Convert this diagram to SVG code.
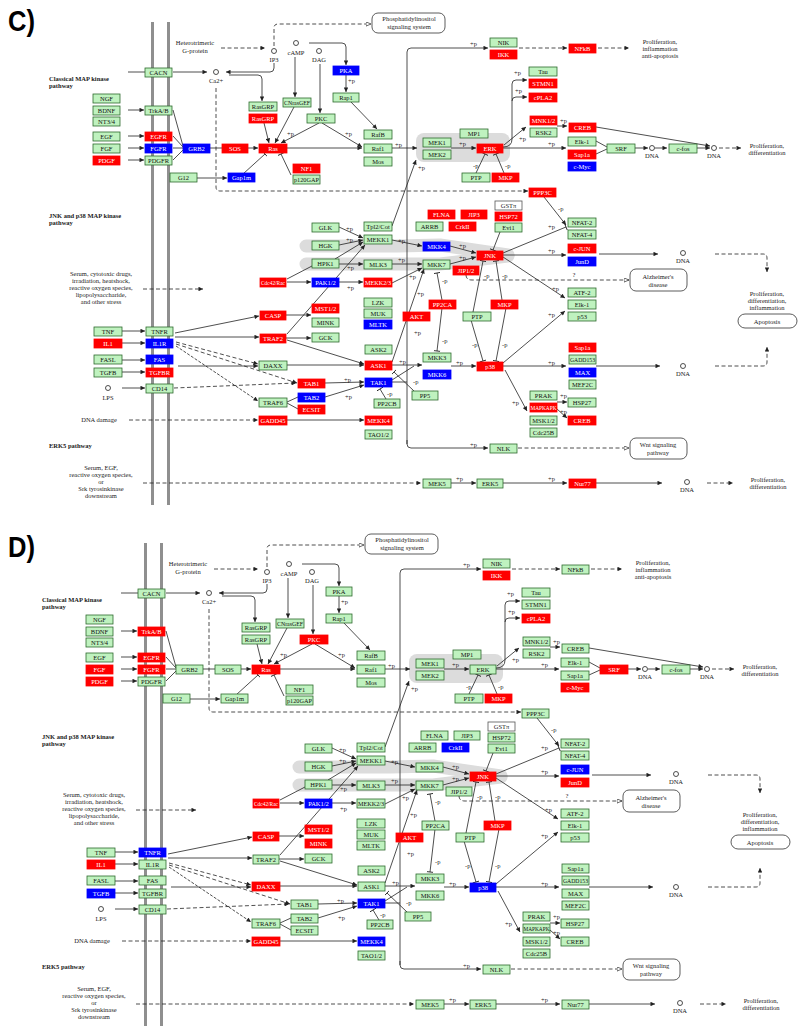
<svg xmlns="http://www.w3.org/2000/svg" xmlns:xlink="http://www.w3.org/1999/xlink" width="800" height="1032" viewBox="0 0 800 1032">
<style>
text{font-family:"Liberation Serif","DejaVu Serif",serif;font-size:6.5px;fill:#222}
.n rect{stroke-width:0.8}
.n text{text-anchor:middle}
.g rect{fill:#bff2bf;stroke:#2d6a2d}
.g text{fill:#111}
.r rect{fill:#ff0000;stroke:#ff0000}
.r text{fill:#fff}
.b rect{fill:#0000ff;stroke:#0000ff}
.b text{fill:#fff}
.w rect{fill:#fff;stroke:#555}
.c{fill:none;stroke:#222;stroke-width:0.8}
.d{stroke-dasharray:4 2.5}
.ma{marker-end:url(#a)}
.mh{marker-end:url(#h)}
.mt{marker-end:url(#t)}
.p{font-size:6px}
.m{text-anchor:middle}
.sec{font-weight:bold}
.pw rect{fill:#fff;stroke:#333;stroke-width:0.8}
.pw text{text-anchor:middle}
.mem{fill:#8f8f8f}
.band{fill:none;stroke:#dcdcdc;stroke-width:13;stroke-linecap:round;stroke-linejoin:round}
.cir{fill:#fff;stroke:#222;stroke-width:0.8}
.big{font-family:"Liberation Sans",Arial,sans-serif;font-weight:bold;font-size:29px;fill:#000}
</style>
<defs>
<marker id="a" viewBox="0 0 6 6" refX="6" refY="3" markerWidth="6" markerHeight="4.5" orient="auto" markerUnits="userSpaceOnUse"><path d="M0,0L6,3L0,6z" fill="#222"/></marker>
<marker id="h" viewBox="0 0 7 6" refX="6.5" refY="3" markerWidth="6" markerHeight="5" orient="auto" markerUnits="userSpaceOnUse"><path d="M0.5,0.5L6.5,3L0.5,5.5z" fill="#fff" stroke="#222" stroke-width="0.8"/></marker>
<marker id="t" viewBox="0 0 2 8" refX="1" refY="4" markerWidth="2" markerHeight="7" orient="auto" markerUnits="userSpaceOnUse"><path d="M1,0V8" stroke="#222" stroke-width="1"/></marker>

<g id="bgp">
<rect class="mem" x="151" y="22" width="3" height="483"/>
<rect class="mem" x="167" y="22" width="3" height="483"/>
<rect x="416" y="133" width="94" height="29" rx="8" fill="#dcdcdc"/>
<path class="band" d="M306,246 L398,246 L440,245 L508,255"/>
<path class="band" d="M306,264 L440,264 L508,256"/>
</g>

<g id="conn">
<path class="c d ma" d="M221,48H265"/>
<path class="c d mh" d="M274,46V28Q274,24 278,24H371"/>
<path class="c ma" d="M274,63V68Q274,72 270,72H226"/>
<path class="c" d="M128,72H145"/>
<path class="c ma" d="M173,72H207"/>
<path class="c ma" d="M229,75H258Q262,75 262,79V101"/>
<path class="c d ma" d="M216,88V187Q216,191 220,191H528"/>
<path class="c ma" d="M295,57V97"/>
<path class="c ma" d="M309,43H342Q346,43 346,47V65"/>
<path class="c ma" d="M320,64V113"/>
<path class="c ma" d="M346,74V92"/>
<path class="c ma" d="M350,101L377,129"/>
<path class="c ma" d="M264,123L269,143"/>
<path class="c ma" d="M294,107L275,143"/>
<path class="c ma" d="M319,123L281,143"/>
<path class="c ma" d="M322,123L362,147"/>
<path class="c ma" d="M287,148H362"/>
<path class="c" d="M210,148H222"/>
<path class="c ma" d="M248,148H258"/>
<path class="c ma" d="M128,110H144"/>
<path class="c ma" d="M128,136H144"/>
<path class="c ma" d="M128,148H144"/>
<path class="c ma" d="M128,160H144"/>
<path class="c" d="M173,110L183,146M173,136L183,147M173,148H183M173,160L183,150"/>
<path class="c ma" d="M197,178H227"/>
<path class="c mt" d="M243,174L265,154"/>
<path class="c mt" d="M291,175L281,154"/>
<path class="c ma" d="M392,148H417"/>
<path class="c ma" d="M392,226L416,160"/>
<path class="c ma" d="M451,148H476"/>
<path class="c mt" d="M476,173L485,154"/>
<path class="c mt" d="M504,173L496,154"/>
<path class="c ma" d="M503,147Q512,147 512,139V84Q512,80 516,80H527"/>
<path class="c ma" d="M512,101Q512,97 516,97H527"/>
<path class="c ma" d="M504,145L526,127"/>
<path class="c ma" d="M557,126H567"/>
<path class="c ma" d="M596,127L710,146"/>
<path class="c ma" d="M503,148H566"/>
<path class="c" d="M596,141L607,147M596,154L607,149"/>
<path class="c ma" d="M635,148H648"/>
<path class="c ma" d="M655,148H667"/>
<path class="c ma" d="M697,148H710"/>
<path class="c d ma" d="M719,148H741"/>
<path class="c ma" d="M407,444V52Q407,48 411,48H488"/>
<path class="c ma" d="M407,440V444Q407,448 411,448H488"/>
<path class="c" d="M392,382H407"/>
<path class="c d ma" d="M519,48H567"/>
<path class="c d ma" d="M598,48H629"/>
<path class="c ma" d="M339,227L363,238"/>
<path class="c ma" d="M339,245L363,240"/>
<path class="c ma" d="M335,259L363,242"/>
<path class="c ma" d="M287,334L365,245"/>
<path class="c ma" d="M339,264H363"/>
<path class="c" d="M287,279L312,266"/>
<path class="c ma" d="M287,282H311"/>
<path class="c ma" d="M339,282H363"/>
<path class="c ma" d="M286,315H311"/>
<path class="c ma" d="M286,338H311"/>
<path class="c ma" d="M175,333L259,316"/>
<path class="c ma" d="M175,337H259"/>
<path class="c ma" d="M122,331H145"/>
<path class="c ma" d="M122,343H145"/>
<path class="c ma" d="M122,360H145"/>
<path class="c ma" d="M122,372H145"/>
<path class="c ma" d="M122,388H145"/>
<path class="c ma" d="M178,366H258"/>
<path class="c d ma" d="M176,342L258,364"/>
<path class="c d ma" d="M176,344L297,383"/>
<path class="c ma" stroke-dasharray="3 1.5" d="M176,346L258,401"/>
<path class="c ma" d="M287,340L364,364"/>
<path class="c ma" d="M287,365H364"/>
<path class="c d ma" d="M174,388L296,383"/>
<path class="c ma" d="M325,383L364,382"/>
<path class="c ma" d="M325,397L364,385"/>
<path class="c" d="M287,402L298,397M287,403L298,409"/>
<path class="c mt" d="M386,399L380,389"/>
<path class="c ma" d="M287,420H364"/>
<path class="c d ma" d="M129,420H258"/>
<path class="c d ma" d="M143,289H203"/>
<path class="c d ma" d="M143,483H421"/>
<path class="c ma" d="M451,483H476"/>
<path class="c ma" d="M503,483H567"/>
<path class="c ma" d="M596,483H662"/>
<path class="c d ma" d="M707,483H733"/>
<path class="c ma" d="M392,240L422,246"/>
<path class="c ma" d="M392,264H422"/>
<path class="c ma" d="M392,283L422,268"/>
<path class="c ma" d="M392,362L424,269"/>
<path class="c ma" d="M392,365H422"/>
<path class="c" d="M392,380L414,366"/>
<path class="c mt" d="M442,300L437,273"/>
<path class="c mt" d="M442,308L437,351"/>
<path class="c mt" d="M414,391L394,372"/>
<path class="c ma" d="M450,246L476,253"/>
<path class="c ma" d="M450,264L476,257"/>
<path class="c ma" d="M451,366H476"/>
<path class="c mt" d="M473,312L483,261"/>
<path class="c mt" d="M502,300L496,261"/>
<path class="c mt" d="M471,320L483,361"/>
<path class="c mt" d="M506,308L496,361"/>
<path class="c mt" d="M500,232L493,250"/>
<path class="c mt" d="M503,253L566,227"/>
<path class="c ma" d="M544,197L566,225"/>
<path class="c ma" d="M503,255H566"/>
<path class="c ma" d="M599,254H658"/>
<path class="c d ma" d="M715,254H763Q767,254 767,258V272"/>
<path class="c ma" d="M503,257L565,298"/>
<path class="c ma" d="M503,363L565,311"/>
<path class="c ma" d="M503,366H566"/>
<path class="c ma" d="M596,366H660"/>
<path class="c d ma" d="M715,366H763Q767,366 767,362V347"/>
<path class="c ma" d="M505,370L527,411"/>
<path class="c ma" d="M557,402H567"/>
<path class="c ma" d="M557,409L567,418"/>
<path class="c d mh" d="M466,275Q466,280 472,280H629"/>
<path class="c d mh" d="M518,448H629"/>
<g class="p">
<text x="348" y="83">+p</text><text x="287" y="136">+p</text><text x="345" y="136">+p</text>
<text x="395" y="147">+p</text><text x="418" y="170">+p</text><text x="459" y="146">+p</text>
<text x="473" y="168">-p</text><text x="505" y="168">-p</text><text x="470" y="46">+p</text>
<text x="514" y="75">+p</text><text x="515" y="93">+p</text><text x="519" y="141">+p</text>
<text x="560" y="123">+p</text><text x="548" y="146">+p</text>
<text x="346" y="231">+p</text><text x="346" y="242">+p</text><text x="347" y="270">+p</text>
<text x="347" y="290">+p</text><text x="398" y="243">+p</text><text x="398" y="262">+p</text>
<text x="409" y="279">+p</text><text x="417" y="296">+p</text><text x="414" y="335">+p</text>
<text x="459" y="248">+p</text><text x="459" y="260">+p</text>
<text x="484" y="278">-p</text><text x="502" y="278">-p</text>
<text x="442" y="283">-p</text><text x="442" y="343">-p</text><text x="558" y="211">-p</text>
<text x="548" y="229">+p</text><text x="548" y="253">+p</text><text x="552" y="291">+p</text>
<text x="548" y="317">+p</text><text x="472" y="347">-p</text><text x="502" y="347">-p</text>
<text x="399" y="364">+p</text><text x="456" y="365">+p</text><text x="548" y="365">+p</text>
<text x="512" y="405">+p</text><text x="560" y="398">+p</text><text x="560" y="414">+p</text>
<text x="413" y="384">-p</text><text x="344" y="382">+p</text><text x="345" y="399">+p</text>
<text x="387" y="396">-p</text><text x="470" y="447">+p</text>
<text x="456" y="481">+p</text><text x="548" y="481">+p</text>
</g>
</g>

<g id="statp">
<circle class="cir" cx="274" cy="51" r="2.5"/>
<circle class="cir" cx="296" cy="43" r="2.5"/>
<circle class="cir" cx="319" cy="51" r="2.5"/>
<circle class="cir" cx="216" cy="72" r="2.5"/>
<circle class="cir" cx="108" cy="388" r="2.5"/>
<circle class="cir" cx="652" cy="148" r="2.5"/>
<circle class="cir" cx="714" cy="148" r="2.5"/>
<circle class="cir" cx="683" cy="253" r="2.5"/>
<circle class="cir" cx="683" cy="366" r="2.5"/>
<circle class="cir" cx="687" cy="482" r="2.5"/>
<g class="m">
<text x="195" y="45">Heterotrimeric</text><text x="195" y="53">G-protein</text>
<text x="274" y="62">IP3</text><text x="296" y="55">cAMP</text><text x="319" y="62">DAG</text>
<text x="216" y="83">Ca2+</text><text x="108" y="400">LPS</text>
<text x="652" y="158">DNA</text><text x="714" y="158">DNA</text><text x="683" y="263">DNA</text>
<text x="683" y="376">DNA</text><text x="687" y="492">DNA</text>
<text x="101" y="276">Serum, cytotoxic drugs,</text><text x="101" y="283">irradiation, heatshock,</text>
<text x="101" y="290">reactive oxygen species,</text><text x="101" y="297">lipopolysaccharide,</text>
<text x="101" y="304">and other stress</text>
<text x="99" y="422">DNA damage</text>
<text x="101" y="470">Serum, EGF,</text><text x="101" y="477">reactive oxygen species,</text>
<text x="101" y="484">or</text><text x="101" y="491">Srk tyrosinkinase</text><text x="101" y="498">downstream</text>
<text x="660" y="44">Proliferation,</text><text x="660" y="51">inflammation</text><text x="660" y="58">anti-apoptosis</text>
<text x="767" y="148">Proliferation,</text><text x="767" y="155">differentiation</text>
<text x="767" y="296">Proliferation,</text><text x="767" y="303">differentiation,</text><text x="767" y="310">inflammation</text>
<text x="768" y="482">Proliferation,</text><text x="768" y="489">differentiation</text>
<text x="574" y="277">?</text>
</g>
<text class="sec" x="49" y="81">Classical MAP kinase</text><text class="sec" x="49" y="88">pathway</text>
<text class="sec" x="49" y="218">JNK and p38 MAP kinase</text><text class="sec" x="49" y="225">pathway</text>
<text class="sec" x="49" y="448">ERK5 pathway</text>
<g class="pw" id="pw-pi"><rect x="372" y="13" width="73" height="20" rx="6"/><text x="409" y="21">Phosphatidylinositol</text><text x="409" y="28.5">signaling system</text></g>
<g class="pw" id="pw-alz"><rect x="630" y="269" width="57" height="22" rx="6"/><text x="658" y="279">Alzheimer's</text><text x="658" y="287">disease</text></g>
<g class="pw" id="pw-wnt"><rect x="630" y="438" width="57" height="21" rx="6"/><text x="658" y="447">Wnt signaling</text><text x="658" y="455">pathway</text></g>
<g class="pw" id="pw-apo"><rect x="738" y="314" width="59" height="14" rx="7"/><text x="767" y="323.5">Apoptosis</text></g>
</g>
</defs>

<rect width="800" height="1032" fill="#fff"/>
<text class="big" x="8" y="31" textLength="27" lengthAdjust="spacingAndGlyphs">C)</text>
<text class="big" x="8" y="557" textLength="27" lengthAdjust="spacingAndGlyphs">D)</text>

<g id="background">
<use href="#bgp"/>
<use href="#bgp" transform="translate(-7,521)"/>
</g>
<g id="connectors">
<use href="#conn"/>
<use href="#conn" transform="translate(-7,521)"/>
</g>
<g id="labels">
<use href="#statp"/>
<use href="#statp" transform="translate(-7,521)"/>
</g>

<g id="nodes-C">
<g id="c-ngf" class="n g"><rect x="93" y="94" width="27" height="9"/><text x="106.5" y="100.8">NGF</text></g>
<g id="c-bdnf" class="n g"><rect x="93" y="106" width="27" height="9"/><text x="106.5" y="112.8">BDNF</text></g>
<g id="c-nt34" class="n g"><rect x="93" y="117" width="27" height="9"/><text x="106.5" y="123.8">NT3/4</text></g>
<g id="c-egf" class="n g"><rect x="93" y="132" width="27" height="9"/><text x="106.5" y="138.8">EGF</text></g>
<g id="c-fgf" class="n g"><rect x="93" y="144" width="27" height="9"/><text x="106.5" y="150.8">FGF</text></g>
<g id="c-pdgf" class="n r"><rect x="93" y="156" width="27" height="9"/><text x="106.5" y="162.8">PDGF</text></g>
<g id="c-cacn" class="n g"><rect x="145" y="68" width="27" height="9"/><text x="158.5" y="74.8">CACN</text></g>
<g id="c-trkab" class="n g"><rect x="145" y="106" width="27" height="9"/><text x="158.5" y="112.8">TrkA/B</text></g>
<g id="c-egfr" class="n r"><rect x="145" y="132" width="27" height="9"/><text x="158.5" y="138.8">EGFR</text></g>
<g id="c-fgfr" class="n b"><rect x="145" y="144" width="27" height="9"/><text x="158.5" y="150.8">FGFR</text></g>
<g id="c-pdgfr" class="n g"><rect x="145" y="156" width="27" height="9"/><text x="158.5" y="162.8">PDGFR</text></g>
<g id="c-grb2" class="n b"><rect x="183" y="144" width="27" height="9"/><text x="196.5" y="150.8">GRB2</text></g>
<g id="c-sos" class="n r"><rect x="222" y="144" width="26" height="9"/><text x="235" y="150.8">SOS</text></g>
<g id="c-ras" class="n r"><rect x="259" y="144" width="28" height="9"/><text x="273" y="150.8">Ras</text></g>
<g id="c-g12" class="n g"><rect x="170" y="173" width="27" height="9"/><text x="183.5" y="179.8">G12</text></g>
<g id="c-gap1m" class="n b"><rect x="228" y="173" width="27" height="9"/><text x="241.5" y="179.8">Gap1m</text></g>
<g id="c-nf1" class="n r"><rect x="293" y="164" width="27" height="9"/><text x="306.5" y="170.8">NF1</text></g>
<g id="c-p120gap" class="n g"><rect x="293" y="175" width="27" height="9"/><text x="306.5" y="181.8" textLength="25" lengthAdjust="spacingAndGlyphs">p120GAP</text></g>
<g id="c-rasgrp1" class="n g"><rect x="249" y="102" width="28" height="9"/><text x="263" y="108.8">RasGRP</text></g>
<g id="c-rasgrp2" class="n r"><rect x="249" y="114" width="28" height="9"/><text x="263" y="120.8">RasGRP</text></g>
<g id="c-cnrasgef" class="n g"><rect x="283" y="98" width="28" height="9"/><text x="297" y="104.8" textLength="26" lengthAdjust="spacingAndGlyphs">CNrasGEF</text></g>
<g id="c-pkc" class="n g"><rect x="307" y="114" width="28" height="9"/><text x="321" y="120.8">PKC</text></g>
<g id="c-pka" class="n b"><rect x="333" y="66" width="26" height="9"/><text x="346" y="72.8">PKA</text></g>
<g id="c-rap1" class="n g"><rect x="333" y="93" width="26" height="9"/><text x="346" y="99.8">Rap1</text></g>
<g id="c-rafb" class="n g"><rect x="364" y="130" width="28" height="9"/><text x="378" y="136.8">RafB</text></g>
<g id="c-raf1" class="n g"><rect x="364" y="144" width="28" height="9"/><text x="378" y="150.8">Raf1</text></g>
<g id="c-mos" class="n g"><rect x="364" y="157" width="28" height="9"/><text x="378" y="163.8">Mos</text></g>
<g id="c-mek1" class="n g"><rect x="423" y="138" width="28" height="9"/><text x="437" y="144.8">MEK1</text></g>
<g id="c-mek2" class="n g"><rect x="423" y="150" width="28" height="9"/><text x="437" y="156.8">MEK2</text></g>
<g id="c-mp1" class="n g"><rect x="460" y="129" width="28" height="9"/><text x="474" y="135.8">MP1</text></g>
<g id="c-erk" class="n r"><rect x="477" y="144" width="26" height="9"/><text x="490" y="150.8">ERK</text></g>
<g id="c-ptp1" class="n g"><rect x="462" y="173" width="28" height="9"/><text x="476" y="179.8">PTP</text></g>
<g id="c-mkp1" class="n r"><rect x="492" y="173" width="27" height="9"/><text x="505.5" y="179.8">MKP</text></g>
<g id="c-nik" class="n g"><rect x="490" y="38" width="27" height="9"/><text x="503.5" y="44.8">NIK</text></g>
<g id="c-ikk" class="n r"><rect x="490" y="50" width="27" height="9"/><text x="503.5" y="56.8">IKK</text></g>
<g id="c-nfkb" class="n r"><rect x="569" y="44" width="27" height="9"/><text x="582.5" y="50.8">NFkB</text></g>
<g id="c-tau" class="n g"><rect x="529" y="67" width="28" height="9"/><text x="543" y="73.8">Tau</text></g>
<g id="c-stmn1" class="n r"><rect x="529" y="79" width="28" height="9"/><text x="543" y="85.8">STMN1</text></g>
<g id="c-cpla2" class="n r"><rect x="529" y="93" width="28" height="9"/><text x="543" y="99.8">cPLA2</text></g>
<g id="c-mnk12" class="n r"><rect x="530" y="116" width="27" height="9"/><text x="543.5" y="122.8">MNK1/2</text></g>
<g id="c-rsk2" class="n g"><rect x="530" y="128" width="27" height="9"/><text x="543.5" y="134.8">RSK2</text></g>
<g id="c-creb1" class="n r"><rect x="569" y="123" width="27" height="9"/><text x="582.5" y="129.8">CREB</text></g>
<g id="c-elk1a" class="n g"><rect x="568" y="137" width="28" height="9"/><text x="582" y="143.8">Elk-1</text></g>
<g id="c-sap1a1" class="n r"><rect x="568" y="150" width="28" height="9"/><text x="582" y="156.8">Sap1a</text></g>
<g id="c-cmyc" class="n b"><rect x="568" y="162" width="28" height="9"/><text x="582" y="168.8">c-Myc</text></g>
<g id="c-srf" class="n g"><rect x="607" y="144" width="28" height="9"/><text x="621" y="150.8">SRF</text></g>
<g id="c-cfos" class="n g"><rect x="669" y="144" width="28" height="9"/><text x="683" y="150.8">c-fos</text></g>
<g id="c-ppp3c" class="n r"><rect x="529" y="188" width="27" height="9"/><text x="542.5" y="194.8">PPP3C</text></g>
<g id="c-gstpi" class="n w"><rect x="495" y="201" width="27" height="9"/><text x="508.5" y="207.8">GSTπ</text></g>
<g id="c-hsp72" class="n r"><rect x="495" y="212" width="27" height="9"/><text x="508.5" y="218.8">HSP72</text></g>
<g id="c-evi1" class="n g"><rect x="495" y="223" width="27" height="9"/><text x="508.5" y="229.8">Evi1</text></g>
<g id="c-flna" class="n r"><rect x="428" y="210" width="27" height="9"/><text x="441.5" y="216.8">FLNA</text></g>
<g id="c-jip3" class="n r"><rect x="461" y="210" width="26" height="9"/><text x="474" y="216.8">JIP3</text></g>
<g id="c-arrb" class="n g"><rect x="416" y="222" width="27" height="9"/><text x="429.5" y="228.8">ARRB</text></g>
<g id="c-crkii" class="n r"><rect x="449" y="222" width="27" height="9"/><text x="462.5" y="228.8">CrkII</text></g>
<g id="c-mkk4" class="n b"><rect x="423" y="242" width="27" height="9"/><text x="436.5" y="248.8">MKK4</text></g>
<g id="c-mkk7" class="n g"><rect x="423" y="260" width="27" height="9"/><text x="436.5" y="266.8">MKK7</text></g>
<g id="c-jnk" class="n r"><rect x="477" y="251" width="26" height="9"/><text x="490" y="257.8">JNK</text></g>
<g id="c-jip12" class="n r"><rect x="453" y="266" width="26" height="9"/><text x="466" y="272.8">JIP1/2</text></g>
<g id="c-nfat2" class="n g"><rect x="568" y="218" width="28" height="9"/><text x="582" y="224.8">NFAT-2</text></g>
<g id="c-nfat4" class="n g"><rect x="568" y="230" width="28" height="9"/><text x="582" y="236.8">NFAT-4</text></g>
<g id="c-cjun" class="n r"><rect x="568" y="244" width="28" height="9"/><text x="582" y="250.8">c-JUN</text></g>
<g id="c-jund" class="n b"><rect x="568" y="257" width="28" height="9"/><text x="582" y="263.8">JunD</text></g>
<g id="c-atf2" class="n g"><rect x="568" y="288" width="28" height="9"/><text x="582" y="294.8">ATF-2</text></g>
<g id="c-elk1b" class="n g"><rect x="568" y="300" width="28" height="9"/><text x="582" y="306.8">Elk-1</text></g>
<g id="c-p53" class="n g"><rect x="568" y="312" width="28" height="9"/><text x="582" y="318.8">p53</text></g>
<g id="c-pp2ca" class="n r"><rect x="429" y="300" width="27" height="9"/><text x="442.5" y="306.8">PP2CA</text></g>
<g id="c-mkp2" class="n r"><rect x="491" y="300" width="27" height="9"/><text x="504.5" y="306.8">MKP</text></g>
<g id="c-ptp2" class="n g"><rect x="463" y="312" width="28" height="9"/><text x="477" y="318.8">PTP</text></g>
<g id="c-akt" class="n r"><rect x="403" y="312" width="27" height="9"/><text x="416.5" y="318.8">AKT</text></g>
<g id="c-glk" class="n g"><rect x="312" y="223" width="27" height="9"/><text x="325.5" y="229.8">GLK</text></g>
<g id="c-hgk" class="n g"><rect x="312" y="241" width="27" height="9"/><text x="325.5" y="247.8">HGK</text></g>
<g id="c-hpk1" class="n g"><rect x="312" y="259" width="27" height="9"/><text x="325.5" y="265.8">HPK1</text></g>
<g id="c-tpl2" class="n g"><rect x="364" y="222" width="28" height="9"/><text x="378" y="228.8">Tpl2/Cot</text></g>
<g id="c-mekk1" class="n g"><rect x="364" y="235" width="28" height="9"/><text x="378" y="241.8">MEKK1</text></g>
<g id="c-mlk3" class="n g"><rect x="364" y="260" width="28" height="9"/><text x="378" y="266.8">MLK3</text></g>
<g id="c-cdc42" class="n r"><rect x="260" y="278" width="26" height="9"/><text x="273" y="284.8" textLength="24" lengthAdjust="spacingAndGlyphs">Cdc42/Rac</text></g>
<g id="c-pak12" class="n b"><rect x="312" y="278" width="27" height="9"/><text x="325.5" y="284.8">PAK1/2</text></g>
<g id="c-mekk23" class="n r"><rect x="364" y="278" width="28" height="9"/><text x="378" y="284.8" textLength="26" lengthAdjust="spacingAndGlyphs">MEKK2/3</text></g>
<g id="c-lzk" class="n g"><rect x="364" y="298" width="28" height="9"/><text x="378" y="304.8">LZK</text></g>
<g id="c-muk" class="n g"><rect x="364" y="309" width="28" height="9"/><text x="378" y="315.8">MUK</text></g>
<g id="c-mltk" class="n b"><rect x="364" y="320" width="28" height="9"/><text x="378" y="326.8">MLTK</text></g>
<g id="c-mst12" class="n r"><rect x="312" y="304" width="27" height="9"/><text x="325.5" y="310.8">MST1/2</text></g>
<g id="c-mink" class="n g"><rect x="312" y="318" width="27" height="9"/><text x="325.5" y="324.8">MINK</text></g>
<g id="c-gck" class="n g"><rect x="312" y="333" width="27" height="9"/><text x="325.5" y="339.8">GCK</text></g>
<g id="c-casp" class="n r"><rect x="260" y="311" width="26" height="9"/><text x="273" y="317.8">CASP</text></g>
<g id="c-traf2" class="n r"><rect x="260" y="334" width="26" height="9"/><text x="273" y="340.8">TRAF2</text></g>
<g id="c-tnf" class="n g"><rect x="94" y="327" width="28" height="9"/><text x="108" y="333.8">TNF</text></g>
<g id="c-tnfr" class="n g"><rect x="146" y="327" width="27" height="9"/><text x="159.5" y="333.8">TNFR</text></g>
<g id="c-il1" class="n r"><rect x="94" y="339" width="28" height="9"/><text x="108" y="345.8">IL1</text></g>
<g id="c-il1r" class="n b"><rect x="146" y="339" width="27" height="9"/><text x="159.5" y="345.8">IL1R</text></g>
<g id="c-fasl" class="n g"><rect x="94" y="355" width="28" height="9"/><text x="108" y="361.8">FASL</text></g>
<g id="c-fas" class="n b"><rect x="146" y="355" width="27" height="9"/><text x="159.5" y="361.8">FAS</text></g>
<g id="c-tgfb" class="n g"><rect x="94" y="368" width="28" height="9"/><text x="108" y="374.8">TGFB</text></g>
<g id="c-tgfbr" class="n r"><rect x="146" y="368" width="27" height="9"/><text x="159.5" y="374.8">TGFBR</text></g>
<g id="c-cd14" class="n g"><rect x="146" y="384" width="27" height="9"/><text x="159.5" y="390.8">CD14</text></g>
<g id="c-ask2" class="n g"><rect x="365" y="345" width="27" height="9"/><text x="378.5" y="351.8">ASK2</text></g>
<g id="c-ask1" class="n r"><rect x="365" y="361" width="27" height="9"/><text x="378.5" y="367.8">ASK1</text></g>
<g id="c-daxx" class="n g"><rect x="259" y="361" width="28" height="9"/><text x="273" y="367.8">DAXX</text></g>
<g id="c-tab1" class="n r"><rect x="298" y="379" width="27" height="9"/><text x="311.5" y="385.8">TAB1</text></g>
<g id="c-tak1" class="n b"><rect x="365" y="378" width="27" height="9"/><text x="378.5" y="384.8">TAK1</text></g>
<g id="c-traf6" class="n g"><rect x="259" y="398" width="28" height="9"/><text x="273" y="404.8">TRAF6</text></g>
<g id="c-tab2" class="n b"><rect x="298" y="393" width="27" height="9"/><text x="311.5" y="399.8">TAB2</text></g>
<g id="c-ecsit" class="n r"><rect x="298" y="405" width="27" height="9"/><text x="311.5" y="411.8">ECSIT</text></g>
<g id="c-pp2cb" class="n g"><rect x="374" y="399" width="26" height="9"/><text x="387" y="405.8">PP2CB</text></g>
<g id="c-gadd45" class="n r"><rect x="259" y="416" width="28" height="9"/><text x="273" y="422.8" textLength="25" lengthAdjust="spacingAndGlyphs">GADD45</text></g>
<g id="c-mekk4" class="n r"><rect x="365" y="416" width="27" height="9"/><text x="378.5" y="422.8">MEKK4</text></g>
<g id="c-tao12" class="n g"><rect x="365" y="430" width="27" height="9"/><text x="378.5" y="436.8">TAO1/2</text></g>
<g id="c-mkk3" class="n g"><rect x="423" y="353" width="28" height="9"/><text x="437" y="359.8">MKK3</text></g>
<g id="c-mkk6" class="n b"><rect x="423" y="370" width="28" height="9"/><text x="437" y="376.8">MKK6</text></g>
<g id="c-p38" class="n r"><rect x="477" y="362" width="26" height="9"/><text x="490" y="368.8">p38</text></g>
<g id="c-pp5" class="n g"><rect x="412" y="391" width="26" height="9"/><text x="425" y="397.8">PP5</text></g>
<g id="c-sap1a2" class="n r"><rect x="569" y="343" width="27" height="9"/><text x="582.5" y="349.8">Sap1a</text></g>
<g id="c-gadd153" class="n g"><rect x="569" y="355" width="27" height="9"/><text x="582.5" y="361.8" textLength="25" lengthAdjust="spacingAndGlyphs">GADD153</text></g>
<g id="c-max" class="n b"><rect x="569" y="368" width="27" height="9"/><text x="582.5" y="374.8">MAX</text></g>
<g id="c-mef2c" class="n g"><rect x="569" y="380" width="27" height="9"/><text x="582.5" y="386.8">MEF2C</text></g>
<g id="c-prak" class="n g"><rect x="530" y="391" width="27" height="9"/><text x="543.5" y="397.8">PRAK</text></g>
<g id="c-mapkapk" class="n r"><rect x="530" y="403" width="27" height="9"/><text x="543.5" y="409.8" textLength="26" lengthAdjust="spacingAndGlyphs">MAPKAPK</text></g>
<g id="c-msk12" class="n g"><rect x="530" y="416" width="27" height="9"/><text x="543.5" y="422.8">MSK1/2</text></g>
<g id="c-cdc25b" class="n g"><rect x="530" y="428" width="27" height="9"/><text x="543.5" y="434.8">Cdc25B</text></g>
<g id="c-hsp27" class="n g"><rect x="568" y="398" width="28" height="9"/><text x="582" y="404.8">HSP27</text></g>
<g id="c-creb2" class="n r"><rect x="568" y="416" width="28" height="9"/><text x="582" y="422.8">CREB</text></g>
<g id="c-nlk" class="n g"><rect x="490" y="444" width="27" height="9"/><text x="503.5" y="450.8">NLK</text></g>
<g id="c-mek5" class="n g"><rect x="423" y="479" width="28" height="9"/><text x="437" y="485.8">MEK5</text></g>
<g id="c-erk5" class="n g"><rect x="477" y="479" width="26" height="9"/><text x="490" y="485.8">ERK5</text></g>
<g id="c-nur77" class="n r"><rect x="569" y="479" width="27" height="9"/><text x="582.5" y="485.8">Nur77</text></g>
</g>

<g id="nodes-D" transform="translate(-7,521)">
<g id="d-ngf" class="n g"><rect x="93" y="94" width="27" height="9"/><text x="106.5" y="100.8">NGF</text></g>
<g id="d-bdnf" class="n g"><rect x="93" y="106" width="27" height="9"/><text x="106.5" y="112.8">BDNF</text></g>
<g id="d-nt34" class="n g"><rect x="93" y="117" width="27" height="9"/><text x="106.5" y="123.8">NT3/4</text></g>
<g id="d-egf" class="n g"><rect x="93" y="132" width="27" height="9"/><text x="106.5" y="138.8">EGF</text></g>
<g id="d-fgf" class="n r"><rect x="93" y="144" width="27" height="9"/><text x="106.5" y="150.8">FGF</text></g>
<g id="d-pdgf" class="n r"><rect x="93" y="156" width="27" height="9"/><text x="106.5" y="162.8">PDGF</text></g>
<g id="d-cacn" class="n g"><rect x="145" y="68" width="27" height="9"/><text x="158.5" y="74.8">CACN</text></g>
<g id="d-trkab" class="n r"><rect x="145" y="106" width="27" height="9"/><text x="158.5" y="112.8">TrkA/B</text></g>
<g id="d-egfr" class="n r"><rect x="145" y="132" width="27" height="9"/><text x="158.5" y="138.8">EGFR</text></g>
<g id="d-fgfr" class="n r"><rect x="145" y="144" width="27" height="9"/><text x="158.5" y="150.8">FGFR</text></g>
<g id="d-pdgfr" class="n g"><rect x="145" y="156" width="27" height="9"/><text x="158.5" y="162.8">PDGFR</text></g>
<g id="d-grb2" class="n g"><rect x="183" y="144" width="27" height="9"/><text x="196.5" y="150.8">GRB2</text></g>
<g id="d-sos" class="n g"><rect x="222" y="144" width="26" height="9"/><text x="235" y="150.8">SOS</text></g>
<g id="d-ras" class="n r"><rect x="259" y="144" width="28" height="9"/><text x="273" y="150.8">Ras</text></g>
<g id="d-g12" class="n g"><rect x="170" y="173" width="27" height="9"/><text x="183.5" y="179.8">G12</text></g>
<g id="d-gap1m" class="n g"><rect x="228" y="173" width="27" height="9"/><text x="241.5" y="179.8">Gap1m</text></g>
<g id="d-nf1" class="n g"><rect x="293" y="164" width="27" height="9"/><text x="306.5" y="170.8">NF1</text></g>
<g id="d-p120gap" class="n g"><rect x="293" y="175" width="27" height="9"/><text x="306.5" y="181.8" textLength="25" lengthAdjust="spacingAndGlyphs">p120GAP</text></g>
<g id="d-rasgrp1" class="n g"><rect x="249" y="102" width="28" height="9"/><text x="263" y="108.8">RasGRP</text></g>
<g id="d-rasgrp2" class="n g"><rect x="249" y="114" width="28" height="9"/><text x="263" y="120.8">RasGRP</text></g>
<g id="d-cnrasgef" class="n g"><rect x="283" y="98" width="28" height="9"/><text x="297" y="104.8" textLength="26" lengthAdjust="spacingAndGlyphs">CNrasGEF</text></g>
<g id="d-pkc" class="n r"><rect x="307" y="114" width="28" height="9"/><text x="321" y="120.8">PKC</text></g>
<g id="d-pka" class="n g"><rect x="333" y="66" width="26" height="9"/><text x="346" y="72.8">PKA</text></g>
<g id="d-rap1" class="n g"><rect x="333" y="93" width="26" height="9"/><text x="346" y="99.8">Rap1</text></g>
<g id="d-rafb" class="n g"><rect x="364" y="130" width="28" height="9"/><text x="378" y="136.8">RafB</text></g>
<g id="d-raf1" class="n g"><rect x="364" y="144" width="28" height="9"/><text x="378" y="150.8">Raf1</text></g>
<g id="d-mos" class="n g"><rect x="364" y="157" width="28" height="9"/><text x="378" y="163.8">Mos</text></g>
<g id="d-mek1" class="n g"><rect x="423" y="138" width="28" height="9"/><text x="437" y="144.8">MEK1</text></g>
<g id="d-mek2" class="n g"><rect x="423" y="150" width="28" height="9"/><text x="437" y="156.8">MEK2</text></g>
<g id="d-mp1" class="n g"><rect x="460" y="129" width="28" height="9"/><text x="474" y="135.8">MP1</text></g>
<g id="d-erk" class="n g"><rect x="477" y="144" width="26" height="9"/><text x="490" y="150.8">ERK</text></g>
<g id="d-ptp1" class="n g"><rect x="462" y="173" width="28" height="9"/><text x="476" y="179.8">PTP</text></g>
<g id="d-mkp1" class="n r"><rect x="492" y="173" width="27" height="9"/><text x="505.5" y="179.8">MKP</text></g>
<g id="d-nik" class="n g"><rect x="490" y="38" width="27" height="9"/><text x="503.5" y="44.8">NIK</text></g>
<g id="d-ikk" class="n r"><rect x="490" y="50" width="27" height="9"/><text x="503.5" y="56.8">IKK</text></g>
<g id="d-nfkb" class="n g"><rect x="569" y="44" width="27" height="9"/><text x="582.5" y="50.8">NFkB</text></g>
<g id="d-tau" class="n g"><rect x="529" y="67" width="28" height="9"/><text x="543" y="73.8">Tau</text></g>
<g id="d-stmn1" class="n g"><rect x="529" y="79" width="28" height="9"/><text x="543" y="85.8">STMN1</text></g>
<g id="d-cpla2" class="n r"><rect x="529" y="93" width="28" height="9"/><text x="543" y="99.8">cPLA2</text></g>
<g id="d-mnk12" class="n g"><rect x="530" y="116" width="27" height="9"/><text x="543.5" y="122.8">MNK1/2</text></g>
<g id="d-rsk2" class="n g"><rect x="530" y="128" width="27" height="9"/><text x="543.5" y="134.8">RSK2</text></g>
<g id="d-creb1" class="n g"><rect x="569" y="123" width="27" height="9"/><text x="582.5" y="129.8">CREB</text></g>
<g id="d-elk1a" class="n g"><rect x="568" y="137" width="28" height="9"/><text x="582" y="143.8">Elk-1</text></g>
<g id="d-sap1a1" class="n g"><rect x="568" y="150" width="28" height="9"/><text x="582" y="156.8">Sap1a</text></g>
<g id="d-cmyc" class="n r"><rect x="568" y="162" width="28" height="9"/><text x="582" y="168.8">c-Myc</text></g>
<g id="d-srf" class="n r"><rect x="607" y="144" width="28" height="9"/><text x="621" y="150.8">SRF</text></g>
<g id="d-cfos" class="n g"><rect x="669" y="144" width="28" height="9"/><text x="683" y="150.8">c-fos</text></g>
<g id="d-ppp3c" class="n g"><rect x="529" y="188" width="27" height="9"/><text x="542.5" y="194.8">PPP3C</text></g>
<g id="d-gstpi" class="n w"><rect x="495" y="201" width="27" height="9"/><text x="508.5" y="207.8">GSTπ</text></g>
<g id="d-hsp72" class="n g"><rect x="495" y="212" width="27" height="9"/><text x="508.5" y="218.8">HSP72</text></g>
<g id="d-evi1" class="n g"><rect x="495" y="223" width="27" height="9"/><text x="508.5" y="229.8">Evi1</text></g>
<g id="d-flna" class="n g"><rect x="428" y="210" width="27" height="9"/><text x="441.5" y="216.8">FLNA</text></g>
<g id="d-jip3" class="n g"><rect x="461" y="210" width="26" height="9"/><text x="474" y="216.8">JIP3</text></g>
<g id="d-arrb" class="n g"><rect x="416" y="222" width="27" height="9"/><text x="429.5" y="228.8">ARRB</text></g>
<g id="d-crkii" class="n b"><rect x="449" y="222" width="27" height="9"/><text x="462.5" y="228.8">CrkII</text></g>
<g id="d-mkk4" class="n g"><rect x="423" y="242" width="27" height="9"/><text x="436.5" y="248.8">MKK4</text></g>
<g id="d-mkk7" class="n g"><rect x="423" y="260" width="27" height="9"/><text x="436.5" y="266.8">MKK7</text></g>
<g id="d-jnk" class="n r"><rect x="477" y="251" width="26" height="9"/><text x="490" y="257.8">JNK</text></g>
<g id="d-jip12" class="n g"><rect x="453" y="266" width="26" height="9"/><text x="466" y="272.8">JIP1/2</text></g>
<g id="d-nfat2" class="n g"><rect x="568" y="218" width="28" height="9"/><text x="582" y="224.8">NFAT-2</text></g>
<g id="d-nfat4" class="n g"><rect x="568" y="230" width="28" height="9"/><text x="582" y="236.8">NFAT-4</text></g>
<g id="d-cjun" class="n b"><rect x="568" y="244" width="28" height="9"/><text x="582" y="250.8">c-JUN</text></g>
<g id="d-jund" class="n r"><rect x="568" y="257" width="28" height="9"/><text x="582" y="263.8">JunD</text></g>
<g id="d-atf2" class="n g"><rect x="568" y="288" width="28" height="9"/><text x="582" y="294.8">ATF-2</text></g>
<g id="d-elk1b" class="n g"><rect x="568" y="300" width="28" height="9"/><text x="582" y="306.8">Elk-1</text></g>
<g id="d-p53" class="n g"><rect x="568" y="312" width="28" height="9"/><text x="582" y="318.8">p53</text></g>
<g id="d-pp2ca" class="n g"><rect x="429" y="300" width="27" height="9"/><text x="442.5" y="306.8">PP2CA</text></g>
<g id="d-mkp2" class="n r"><rect x="491" y="300" width="27" height="9"/><text x="504.5" y="306.8">MKP</text></g>
<g id="d-ptp2" class="n g"><rect x="463" y="312" width="28" height="9"/><text x="477" y="318.8">PTP</text></g>
<g id="d-akt" class="n r"><rect x="403" y="312" width="27" height="9"/><text x="416.5" y="318.8">AKT</text></g>
<g id="d-glk" class="n g"><rect x="312" y="223" width="27" height="9"/><text x="325.5" y="229.8">GLK</text></g>
<g id="d-hgk" class="n g"><rect x="312" y="241" width="27" height="9"/><text x="325.5" y="247.8">HGK</text></g>
<g id="d-hpk1" class="n g"><rect x="312" y="259" width="27" height="9"/><text x="325.5" y="265.8">HPK1</text></g>
<g id="d-tpl2" class="n g"><rect x="364" y="222" width="28" height="9"/><text x="378" y="228.8">Tpl2/Cot</text></g>
<g id="d-mekk1" class="n g"><rect x="364" y="235" width="28" height="9"/><text x="378" y="241.8">MEKK1</text></g>
<g id="d-mlk3" class="n g"><rect x="364" y="260" width="28" height="9"/><text x="378" y="266.8">MLK3</text></g>
<g id="d-cdc42" class="n r"><rect x="260" y="278" width="26" height="9"/><text x="273" y="284.8" textLength="24" lengthAdjust="spacingAndGlyphs">Cdc42/Rac</text></g>
<g id="d-pak12" class="n b"><rect x="312" y="278" width="27" height="9"/><text x="325.5" y="284.8">PAK1/2</text></g>
<g id="d-mekk23" class="n g"><rect x="364" y="278" width="28" height="9"/><text x="378" y="284.8" textLength="26" lengthAdjust="spacingAndGlyphs">MEKK2/3</text></g>
<g id="d-lzk" class="n g"><rect x="364" y="298" width="28" height="9"/><text x="378" y="304.8">LZK</text></g>
<g id="d-muk" class="n g"><rect x="364" y="309" width="28" height="9"/><text x="378" y="315.8">MUK</text></g>
<g id="d-mltk" class="n g"><rect x="364" y="320" width="28" height="9"/><text x="378" y="326.8">MLTK</text></g>
<g id="d-mst12" class="n r"><rect x="312" y="304" width="27" height="9"/><text x="325.5" y="310.8">MST1/2</text></g>
<g id="d-mink" class="n r"><rect x="312" y="318" width="27" height="9"/><text x="325.5" y="324.8">MINK</text></g>
<g id="d-gck" class="n g"><rect x="312" y="333" width="27" height="9"/><text x="325.5" y="339.8">GCK</text></g>
<g id="d-casp" class="n r"><rect x="260" y="311" width="26" height="9"/><text x="273" y="317.8">CASP</text></g>
<g id="d-traf2" class="n g"><rect x="260" y="334" width="26" height="9"/><text x="273" y="340.8">TRAF2</text></g>
<g id="d-tnf" class="n g"><rect x="94" y="327" width="28" height="9"/><text x="108" y="333.8">TNF</text></g>
<g id="d-tnfr" class="n b"><rect x="146" y="327" width="27" height="9"/><text x="159.5" y="333.8">TNFR</text></g>
<g id="d-il1" class="n r"><rect x="94" y="339" width="28" height="9"/><text x="108" y="345.8">IL1</text></g>
<g id="d-il1r" class="n g"><rect x="146" y="339" width="27" height="9"/><text x="159.5" y="345.8">IL1R</text></g>
<g id="d-fasl" class="n g"><rect x="94" y="355" width="28" height="9"/><text x="108" y="361.8">FASL</text></g>
<g id="d-fas" class="n g"><rect x="146" y="355" width="27" height="9"/><text x="159.5" y="361.8">FAS</text></g>
<g id="d-tgfb" class="n b"><rect x="94" y="368" width="28" height="9"/><text x="108" y="374.8">TGFB</text></g>
<g id="d-tgfbr" class="n g"><rect x="146" y="368" width="27" height="9"/><text x="159.5" y="374.8">TGFBR</text></g>
<g id="d-cd14" class="n g"><rect x="146" y="384" width="27" height="9"/><text x="159.5" y="390.8">CD14</text></g>
<g id="d-ask2" class="n g"><rect x="365" y="345" width="27" height="9"/><text x="378.5" y="351.8">ASK2</text></g>
<g id="d-ask1" class="n g"><rect x="365" y="361" width="27" height="9"/><text x="378.5" y="367.8">ASK1</text></g>
<g id="d-daxx" class="n r"><rect x="259" y="361" width="28" height="9"/><text x="273" y="367.8">DAXX</text></g>
<g id="d-tab1" class="n g"><rect x="298" y="379" width="27" height="9"/><text x="311.5" y="385.8">TAB1</text></g>
<g id="d-tak1" class="n b"><rect x="365" y="378" width="27" height="9"/><text x="378.5" y="384.8">TAK1</text></g>
<g id="d-traf6" class="n g"><rect x="259" y="398" width="28" height="9"/><text x="273" y="404.8">TRAF6</text></g>
<g id="d-tab2" class="n g"><rect x="298" y="393" width="27" height="9"/><text x="311.5" y="399.8">TAB2</text></g>
<g id="d-ecsit" class="n g"><rect x="298" y="405" width="27" height="9"/><text x="311.5" y="411.8">ECSIT</text></g>
<g id="d-pp2cb" class="n g"><rect x="374" y="399" width="26" height="9"/><text x="387" y="405.8">PP2CB</text></g>
<g id="d-gadd45" class="n r"><rect x="259" y="416" width="28" height="9"/><text x="273" y="422.8" textLength="25" lengthAdjust="spacingAndGlyphs">GADD45</text></g>
<g id="d-mekk4" class="n b"><rect x="365" y="416" width="27" height="9"/><text x="378.5" y="422.8">MEKK4</text></g>
<g id="d-tao12" class="n g"><rect x="365" y="430" width="27" height="9"/><text x="378.5" y="436.8">TAO1/2</text></g>
<g id="d-mkk3" class="n g"><rect x="423" y="353" width="28" height="9"/><text x="437" y="359.8">MKK3</text></g>
<g id="d-mkk6" class="n g"><rect x="423" y="370" width="28" height="9"/><text x="437" y="376.8">MKK6</text></g>
<g id="d-p38" class="n b"><rect x="477" y="362" width="26" height="9"/><text x="490" y="368.8">p38</text></g>
<g id="d-pp5" class="n g"><rect x="412" y="391" width="26" height="9"/><text x="425" y="397.8">PP5</text></g>
<g id="d-sap1a2" class="n g"><rect x="569" y="343" width="27" height="9"/><text x="582.5" y="349.8">Sap1a</text></g>
<g id="d-gadd153" class="n g"><rect x="569" y="355" width="27" height="9"/><text x="582.5" y="361.8" textLength="25" lengthAdjust="spacingAndGlyphs">GADD153</text></g>
<g id="d-max" class="n g"><rect x="569" y="368" width="27" height="9"/><text x="582.5" y="374.8">MAX</text></g>
<g id="d-mef2c" class="n g"><rect x="569" y="380" width="27" height="9"/><text x="582.5" y="386.8">MEF2C</text></g>
<g id="d-prak" class="n g"><rect x="530" y="391" width="27" height="9"/><text x="543.5" y="397.8">PRAK</text></g>
<g id="d-mapkapk" class="n g"><rect x="530" y="403" width="27" height="9"/><text x="543.5" y="409.8" textLength="26" lengthAdjust="spacingAndGlyphs">MAPKAPK</text></g>
<g id="d-msk12" class="n g"><rect x="530" y="416" width="27" height="9"/><text x="543.5" y="422.8">MSK1/2</text></g>
<g id="d-cdc25b" class="n g"><rect x="530" y="428" width="27" height="9"/><text x="543.5" y="434.8">Cdc25B</text></g>
<g id="d-hsp27" class="n g"><rect x="568" y="398" width="28" height="9"/><text x="582" y="404.8">HSP27</text></g>
<g id="d-creb2" class="n g"><rect x="568" y="416" width="28" height="9"/><text x="582" y="422.8">CREB</text></g>
<g id="d-nlk" class="n g"><rect x="490" y="444" width="27" height="9"/><text x="503.5" y="450.8">NLK</text></g>
<g id="d-mek5" class="n g"><rect x="423" y="479" width="28" height="9"/><text x="437" y="485.8">MEK5</text></g>
<g id="d-erk5" class="n g"><rect x="477" y="479" width="26" height="9"/><text x="490" y="485.8">ERK5</text></g>
<g id="d-nur77" class="n g"><rect x="569" y="479" width="27" height="9"/><text x="582.5" y="485.8">Nur77</text></g>
</g>
</svg>
